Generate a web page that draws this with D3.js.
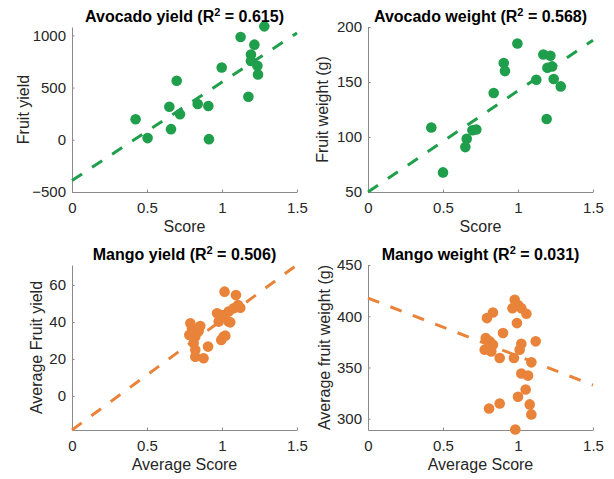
<!DOCTYPE html>
<html lang="en">
<head>
<meta charset="UTF-8">
<title>Avocado and mango scores</title>
<script src="https://cdn.jsdelivr.net/npm/d3@7"></script>
<style>
    body { margin: 0; background: #fff; }
    svg { display: block; font-family: "Liberation Sans", Arial, sans-serif; }
    .tick text { font-size: 15px; fill: #262626; }
    .domain, .tick line { stroke: #8a8a8a; }
</style>
</head>
<body>
<script>
    // data
    var avoYieldScore = [0.424, 0.504, 0.649, 0.660, 0.698, 0.720, 0.838, 0.909, 0.913, 0.998, 1.124, 1.176, 1.193, 1.193, 1.216, 1.236, 1.240, 1.282];
    var avoYield = [197, 16, 317, 102, 565, 245, 343, 324, 6, 692, 984, 412, 816, 755, 911, 708, 626, 1086];

    var avoWeightScore = [0.422, 0.500, 0.649, 0.658, 0.696, 0.722, 0.838, 0.905, 0.913, 0.996, 1.122, 1.169, 1.191, 1.196, 1.216, 1.227, 1.238, 1.285];
    var avoWeight = [108.6, 67.8, 90.8, 98.3, 106.2, 106.8, 140, 167.2, 159.9, 185, 152.1, 175, 116.4, 163, 173.9, 164.2, 152.7, 146];

    var mangoYieldScore = [0.782, 0.789, 0.800, 0.811, 0.822, 0.822, 0.822, 0.844, 0.855, 0.877, 0.907, 0.967, 0.978, 0.995, 1.000, 1.011, 1.017, 1.022, 1.044, 1.044, 1.055, 1.078, 1.093, 1.107, 1.122];
    var mangoYield = [33.0, 39.3, 36.6, 28.5, 32.1, 24.9, 21.2, 35.0, 37.8, 20.4, 26.7, 44.7, 40.2, 30.3, 43.8, 32.1, 56.4, 32.6, 45.6, 40.2, 39.8, 47.4, 54.6, 49.2, 47.7];

    var mangoWeightScore = [0.978, 1.000, 0.963, 1.022, 1.056, 0.833, 0.793, 0.993, 0.900, 0.785, 0.811, 0.833, 1.118, 1.022, 0.778, 0.822, 0.878, 1.011, 0.973, 1.089, 1.022, 1.067, 1.051, 1.000, 1.078, 1.089, 0.878, 0.807, 0.982];
    var mangoWeight = [416, 411, 407.9, 407.9, 402.4, 403.6, 398.2, 393.3, 383.6, 378.8, 375.5, 372.3, 375.5, 373.2, 367.4, 365.7, 359.3, 367.4, 359.3, 355, 344.1, 342.1, 328.5, 321.4, 314, 304.2, 314.9, 310, 289.5];

    // fitted lines (intercept, slope) as drawn
    var fitIntercept = [-390, 50, -18.4, 417.7];
    var fitSlope = [942, 92, 59.5, -56.6];

    var titles = ["Avocado yield", "Avocado weight", "Mango yield", "Mango weight"];
    var r2 = ["0.615", "0.568", "0.506", "0.031"];
    var xLabels = ["Score", "Score", "Average Score", "Average Score"];
    var yLabels = ["Fruit yield", "Fruit weight (g)", "Average Fruit yield", "Average fruit weight (g)"];

    var xTicks = [0, 0.5, 1, 1.5];
    var yLims = [[-500, 1080], [50, 200], [-18.4, 70.8], [289, 450]];
    var yTicks = [[-500, 0, 500, 1000], [50, 100, 150, 200], [0, 20, 40, 60], [300, 350, 400, 450]];

    var green = "#1f9e4b", orange = "#e9833a";

    var panels = [
        {x: avoYieldScore, y: avoYield, color: green, left: 72, top: 27, yLabelX: -43},
        {x: avoWeightScore, y: avoWeight, color: green, left: 368, top: 27, yLabelX: -40},
        {x: mangoYieldScore, y: mangoYield, color: orange, left: 72, top: 265, yLabelX: -30},
        {x: mangoWeightScore, y: mangoWeight, color: orange, left: 368, top: 265, yLabelX: -38}
    ];

    var W = 225, H = 165;

    var svg = d3.select("body").append("svg")
        .attr("width", 614)
        .attr("height", 479);

    panels.forEach(function(p, i) {
        var g = svg.append("g").attr("transform", `translate(${p.left},${p.top})`);

        var x = d3.scaleLinear().domain([0, 1.5]).range([0, W]);
        var y = d3.scaleLinear().domain(yLims[i]).range([H, 0]);

        g.append("g")
            .attr("transform", `translate(0,${H})`)
            .call(d3.axisBottom(x).tickValues(xTicks).tickFormat(d3.format("")).tickSizeInner(-2.5).tickSizeOuter(0).tickPadding(10));
        g.append("g")
            .call(d3.axisLeft(y).tickValues(yTicks[i]).tickFormat(d3.format("")).tickSizeInner(-2.5).tickSizeOuter(0).tickPadding(6));

        g.selectAll("circle")
            .data(p.x)
            .enter()
            .append("circle")
            .attr("cx", d => x(d))
            .attr("cy", (d, j) => y(p.y[j]))
            .attr("r", 5.3)
            .attr("fill", p.color);

        var line = d3.line().x(d => x(d)).y(d => y(fitIntercept[i] + fitSlope[i] * d));
        g.append("path")
            .datum([0, 1.5])
            .attr("d", line)
            .attr("fill", "none")
            .attr("stroke", p.color)
            .attr("stroke-width", 3)
            .attr("stroke-dasharray", "12,12");

        // title with R^2
        var t = g.append("text")
            .attr("x", W / 2)
            .attr("y", -5)
            .attr("text-anchor", "middle")
            .attr("font-size", "16px")
            .attr("font-weight", "bold")
            .attr("fill", "#000");
        t.append("tspan").text(titles[i] + " (R");
        t.append("tspan").attr("dy", -6).attr("font-size", "11px").text("2");
        t.append("tspan").attr("dy", 6).text(" = " + r2[i] + ")");

        g.append("text")
            .attr("x", W / 2)
            .attr("y", H + 40)
            .attr("text-anchor", "middle")
            .attr("font-size", "16px")
            .attr("fill", "#262626")
            .text(xLabels[i]);

        g.append("text")
            .attr("transform", `translate(${p.yLabelX},${H / 2}) rotate(-90)`)
            .attr("text-anchor", "middle")
            .attr("font-size", "16px")
            .attr("fill", "#262626")
            .text(yLabels[i]);
    });
</script>
</body>
</html>
